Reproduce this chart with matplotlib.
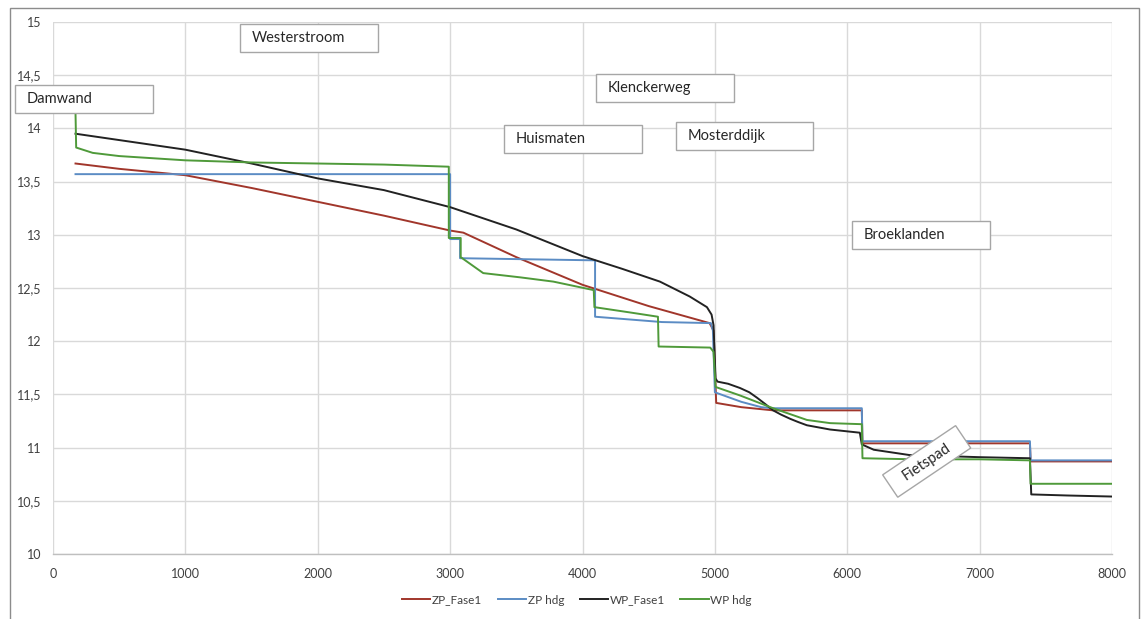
import matplotlib
matplotlib.use("Agg")
import matplotlib.pyplot as plt
from matplotlib.patches import Rectangle
from matplotlib.ticker import FuncFormatter, MultipleLocator
import matplotlib.transforms as mtransforms

plt.rcParams['font.family'] = ['Lato', 'DejaVu Sans']

# ---------------- data ----------------
zp_fase1_x = [170, 500, 1000, 1500, 2000, 2500, 3000, 3100, 3500, 4000, 4500, 4960, 4990, 5010, 5200, 5440, 6110, 6115, 7380, 7385, 8000]
zp_fase1_y = [13.67, 13.62, 13.56, 13.44, 13.31, 13.18, 13.04, 13.02, 12.79, 12.53, 12.33, 12.17, 12.10, 11.42, 11.38, 11.35, 11.35, 11.04, 11.04, 10.87, 10.87]

zp_hdg_x = [170, 3000, 3000, 3075, 3075, 4095, 4095, 4600, 4970, 4985, 5000, 5200, 5350, 5440, 6110, 6115, 7380, 7385, 8000]
zp_hdg_y = [13.57, 13.57, 12.96, 12.96, 12.78, 12.76, 12.23, 12.18, 12.17, 12.10, 11.52, 11.43, 11.38, 11.37, 11.37, 11.06, 11.06, 10.88, 10.88]

wp_fase1_x = [170, 1000, 1500, 2000, 2500, 3000, 3500, 4000, 4300, 4585, 4810, 4940, 4975, 4990, 5005, 5020, 5100, 5190, 5260, 5317, 5380, 5440, 5500, 5570, 5630, 5695, 5870, 6095, 6110, 6200, 6470, 7000, 7380, 7390, 7660, 8000]
wp_fase1_y = [13.95, 13.80, 13.67, 13.53, 13.42, 13.26, 13.05, 12.80, 12.68, 12.56, 12.42, 12.32, 12.25, 12.15, 11.65, 11.62, 11.60, 11.56, 11.52, 11.47, 11.41, 11.35, 11.31, 11.27, 11.24, 11.21, 11.17, 11.14, 11.03, 10.98, 10.93, 10.91, 10.90, 10.56, 10.55, 10.54]

wp_hdg_x = [170, 175, 300, 500, 1000, 1500, 2000, 2500, 2990, 2990, 3080, 3080, 3250, 3530, 3780, 4085, 4090, 4360, 4570, 4575, 4965, 4990, 5005, 5190, 5440, 5695, 5870, 6110, 6115, 6500, 7000, 7380, 7385, 8000]
wp_hdg_y = [14.15, 13.82, 13.77, 13.74, 13.70, 13.68, 13.67, 13.66, 13.64, 12.97, 12.97, 12.79, 12.64, 12.60, 12.56, 12.48, 12.32, 12.27, 12.23, 11.95, 11.94, 11.90, 11.57, 11.49, 11.37, 11.26, 11.23, 11.22, 10.90, 10.89, 10.89, 10.88, 10.66, 10.66]

series_names = ["ZP_Fase1", "ZP hdg", "WP_Fase1", "WP hdg"]
series_colors = ["#a1362b", "#5b8cc4", "#222222", "#4f9a3a"]

# annotation labels (left edge x, top y in data units)
box_labels = ["Westerstroom", "Damwand", "Klenckerweg", "Huismaten", "Mosterddijk", "Broeklanden"]
box_left = [1412, -287, 4101, 3406, 4705, 6035]
box_top = [14.98, 14.41, 14.51, 14.03, 14.06, 13.13]
rot_label = "Fietspad"
rot_center = (6600, 10.87)

x_ticks = [0, 1000, 2000, 3000, 4000, 5000, 6000, 7000, 8000]

# ---------------- figure ----------------
W, H, DPI = 1144, 619, 100
fig = plt.figure(figsize=(W / DPI, H / DPI), dpi=DPI)
fig.patch.set_facecolor("white")

# outer chart border
fig.add_artist(Rectangle((10 / W, -0.02), (1139 - 10) / W, 1 - 8 / H + 0.02,
                         transform=fig.transFigure, fill=False,
                         edgecolor="#8c8c8c", linewidth=1.0))

ax = fig.add_axes([53 / W, 1 - 554 / H, (1112 - 53) / W, (554 - 22) / H])
ax.set_xlim(0, 8000)
ax.set_ylim(10, 15)
ax.set_xticks(x_ticks)
ax.yaxis.set_major_locator(MultipleLocator(0.5))
ax.yaxis.set_major_formatter(FuncFormatter(
    lambda v, p: (f"{v:g}").replace(".", ",")))
ax.grid(True, color="#d9d9d9", linewidth=1.0)
ax.set_axisbelow(True)
for s in ["top", "right", "left"]:
    ax.spines[s].set_visible(False)
ax.spines["bottom"].set_color("#bfbfbf")
ax.spines["bottom"].set_linewidth(1.0)
ax.tick_params(axis="both", length=0, labelsize=9, labelcolor="#404040")
ax.tick_params(axis="x", pad=10)
ax.tick_params(axis="y", pad=8)

xs = [zp_fase1_x, zp_hdg_x, wp_fase1_x, wp_hdg_x]
ys = [zp_fase1_y, zp_hdg_y, wp_fase1_y, wp_hdg_y]
order = [1, 3, 0, 2]
for i in order:
    ax.plot(xs[i], ys[i], color=series_colors[i], linewidth=1.4,
            label=series_names[i], zorder=3 + i * 0.1)

# text boxes
bw = 1040
bh = 0.265
for lab, xl, yt in zip(box_labels, box_left, box_top):
    r = Rectangle((xl, yt - bh), bw, bh, facecolor="white", edgecolor="#a6a6a6",
                  linewidth=1.0, zorder=6, clip_on=False)
    ax.add_patch(r)
    ax.text(xl + 90, yt - bh / 2, lab, fontsize=10.5, color="#262626",
            ha="left", va="center", zorder=7, clip_on=False)

# rotated "Fietspad" box, sized in pixels
fig.canvas.draw()
cx, cy = ax.transData.transform(rot_center)
rw, rh, ang = 88, 27, 34
tr = mtransforms.Affine2D().translate(-rw / 2, -rh / 2).rotate_deg(ang).translate(cx, cy)
rr = Rectangle((0, 0), rw, rh, transform=tr, facecolor="white",
               edgecolor="#a6a6a6", linewidth=1.0, zorder=6, clip_on=False)
ax.add_artist(rr)
ax.text(*rot_center, rot_label, rotation=ang, rotation_mode="anchor",
        ha="center", va="center", fontsize=10.5, color="#262626", zorder=7)

# legend
handles, labels = ax.get_legend_handles_labels()
hmap = dict(zip(labels, handles))
fig.legend([hmap[n] for n in series_names], series_names, loc="center",
           bbox_to_anchor=(577 / W, 1 - 600 / H), ncol=4, frameon=False,
           fontsize=8.5, handlelength=2.4, handletextpad=0.15, columnspacing=1.3,
           labelcolor="#404040")

fig.savefig("out.png", dpi=DPI, facecolor="white")
